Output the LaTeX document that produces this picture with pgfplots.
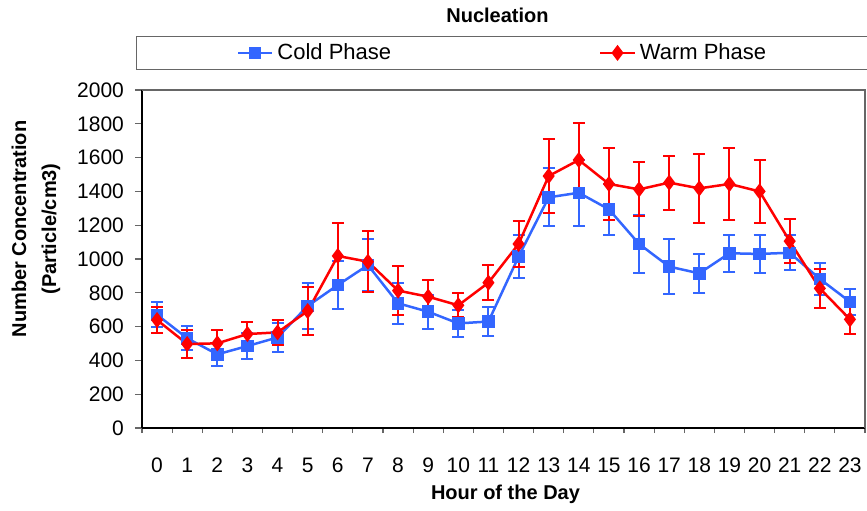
\documentclass[border=0pt]{standalone}
\usepackage{pgfplots}
\pgfplotsset{compat=1.18}
\usepackage{pgfplotstable}
\usepackage{fontspec}
\setmainfont{Liberation Sans}
\definecolor{cold}{RGB}{51,102,255}
\definecolor{warm}{RGB}{255,0,0}
\pgfplotstableread{
x y e
0 670 73
1 531 72
2 436 67
3 485 75
4 536 88
5 722 136
6 846 141
7 964 153
8 738 121
9 688 101
10 619 81
11 630 87
12 1014 128
13 1365 172
14 1392 194
15 1294 151
16 1089 174
17 955 161
18 915 114
19 1034 108
20 1030 113
21 1037 105
22 882 94
23 747 76
}\coldtable
\pgfplotstableread{
x y e
0 639 76
1 497 83
2 501 81
3 556 70
4 566 74
5 692 140
6 1018 195
7 984 180
8 813 143
9 777 100
10 726 72
11 860 105
12 1089 137
13 1491 219
14 1586 220
15 1444 212
16 1412 160
17 1452 160
18 1418 205
19 1444 215
20 1400 185
21 1106 132
22 826 113
23 643 87
}\warmtable
\begin{document}
\begin{tikzpicture}
\begin{axis}[
  scale only axis, width=361.5pt, height=169pt,
  xmin=-0.5, xmax=23.5, ymin=0, ymax=2000,
  axis x line*=bottom, axis y line*=left,
  axis line style={black, line width=0.6pt},
  xtick={0,...,23},
  major x tick style={draw=none},
  minor xtick={-0.5,0.5,...,23.5},
  minor x tick style={gray!80!black, line width=0.6pt},
  ytick={0,200,...,2000},
  major y tick style={gray!80!black, line width=0.6pt},
  tick align=outside,
  major tick length=3.5pt, minor tick length=2.5pt,
  /pgf/number format/assume math mode=true,
  /pgf/number format/1000 sep={},
  tick label style={font=\fontsize{10.5}{12}\selectfont},
  xticklabel style={yshift=-8pt},
  yticklabel style={xshift=-2pt},
  xlabel={Hour of the Day},
  xlabel style={font=\bfseries\fontsize{10}{12}\selectfont, at={(axis description cs:0.5,0)}, anchor=center, yshift=-33pt, xshift=1pt},
  ylabel={Number Concentration\\(Particle/cm3)},
  ylabel style={font=\bfseries\fontsize{10}{15}\selectfont, align=center, at={(axis description cs:0,0.5)}, anchor=center, xshift=15pt, yshift=53pt},
  title={Nucleation},
  title style={font=\bfseries\fontsize{10}{12}\selectfont, at={(axis description cs:0.5,1)}, anchor=center, yshift=31.5pt, xshift=-3pt},
  legend columns=2,
  legend style={at={(0.5,1)}, anchor=south, yshift=10pt, draw=gray!80!black, line width=0.6pt,
    font=\fontsize{11}{13}\selectfont, inner xsep=50pt, inner ysep=1.5pt,
    /tikz/every even column/.append style={column sep=102pt}},
  clip=false,
]
\addplot[color=cold, line width=1.25pt, mark=square*, mark size=2.5pt,
  error bars/.cd, y dir=both, y explicit,
  error bar style={line width=1pt, cold},
  error mark options={rotate=90, mark size=3pt, line width=1pt, cold}]
  table[x=x, y=y, y error=e]{\coldtable};
\addlegendentry{Cold Phase}
\addplot[color=warm, line width=1.25pt, mark=diamond*, mark size=3pt,
  error bars/.cd, y dir=both, y explicit,
  error bar style={line width=1pt, warm},
  error mark options={rotate=90, mark size=3pt, line width=1pt, warm}]
  table[x=x, y=y, y error=e]{\warmtable};
\addlegendentry{Warm Phase}
\draw[gray!80!black, line width=0.6pt] (rel axis cs:0,1) -- (rel axis cs:1,1) -- (rel axis cs:1,0);
\coordinate (sw) at (rel axis cs:0,0);
\end{axis}
\pgfresetboundingbox
\path (sw) ++(-71pt,-41pt) rectangle ++(433.5pt,255pt);
\end{tikzpicture}
\end{document}
